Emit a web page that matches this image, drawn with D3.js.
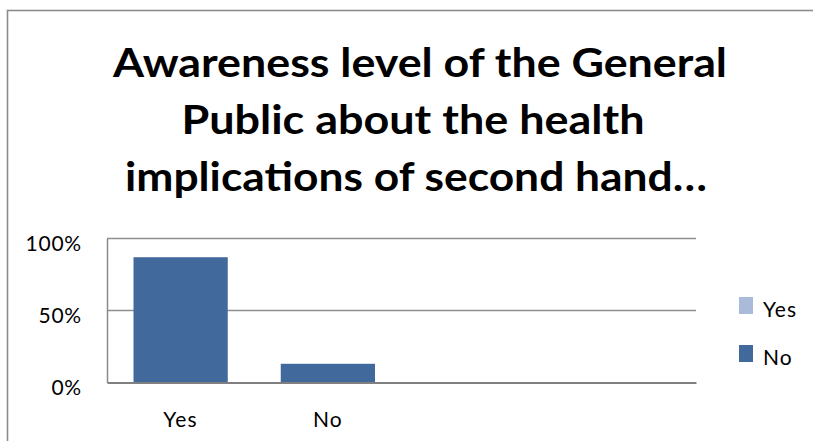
<!DOCTYPE html>
<html>
<head>
<meta charset="utf-8">
<script src="https://cdn.jsdelivr.net/npm/d3@7"></script>
<style>
  html, body { margin: 0; padding: 0; background: #fff; }
  svg { display: block; }
</style>
</head>
<body>
<svg id="chart" width="813" height="441"></svg>
<script>
// Chart data
const categories = ["Yes", "No", " ", "  "];   // four category slots, last two empty
const values = [87, 13, null, null];           // percent of respondents
const yTicks = [0, 50, 100];
const legendLabels = ["Yes", "No"];
const titleLines = [
  "Awareness level of the General",
  "Public about the health",
  "implications of second hand\u2026"
];

const W = 813, H = 441;
const barColor = "#41699b";
const legendColors = ["#aabad9", "#41699b"];
const font = "Lato, 'Open Sans', 'DejaVu Sans', sans-serif";

const svg = d3.select("#chart");

// Outer chart frame (extends past the right/bottom edges)
svg.append("rect")
  .attr("x", 7.5).attr("y", 10.5)
  .attr("width", 840).attr("height", 460)
  .attr("fill", "#fff")
  .attr("stroke", "#8c8c8c")
  .attr("stroke-width", 1.6);

// Title
const title = svg.append("text")
  .attr("text-anchor", "middle")
  .attr("font-family", font)
  .attr("font-weight", 700)
  .attr("font-size", 40)
  .attr("fill", "#000");
const titleWidths = [614, 463, 582];
const titleCenters = [420, 413, 416];
titleLines.forEach((t, i) => {
  title.append("tspan")
    .attr("x", titleCenters[i])
    .attr("y", 77 + i * 57)
    .attr("textLength", titleWidths[i])
    .attr("lengthAdjust", "spacingAndGlyphs")
    .text(t);
});

// Plot area
const plot = { left: 107, right: 696, top: 238.5, bottom: 382.5 };

const x = d3.scaleBand()
  .domain(categories)
  .range([plot.left, plot.right])
  .paddingInner(0.36)
  .paddingOuter(0.18);

const y = d3.scaleLinear()
  .domain([0, 100])
  .range([plot.bottom, plot.top]);

// Gridlines
svg.append("g")
  .selectAll("line")
  .data(yTicks.filter(d => d > 0))
  .join("line")
  .attr("x1", plot.left).attr("x2", plot.right)
  .attr("y1", d => y(d)).attr("y2", d => y(d))
  .attr("stroke", "#8e8e8e")
  .attr("stroke-width", 1.5);

// Bars
svg.append("g")
  .selectAll("rect")
  .data(categories.map((c, i) => ({ c, v: values[i] })).filter(d => d.v != null))
  .join("rect")
  .attr("x", d => x(d.c))
  .attr("width", x.bandwidth())
  .attr("y", d => y(d.v))
  .attr("height", d => y(0) - y(d.v))
  .attr("fill", barColor);

// Axes
const yAxis = d3.axisLeft(y)
  .tickValues(yTicks)
  .tickFormat(d => d + "%")
  .tickSize(0)
  .tickPadding(25);
const gy = svg.append("g")
  .attr("transform", `translate(${plot.left},0)`)
  .call(yAxis);
gy.select(".domain").attr("stroke", "#8a8a8a").attr("stroke-width", 1.5);
gy.selectAll("text")
  .attr("font-family", font)
  .attr("font-size", 21)
  .attr("letter-spacing", 0.8)
  .attr("fill", "#000")
  .attr("dy", "0.55em");

const xAxis = d3.axisBottom(x)
  .tickSize(0)
  .tickPadding(30);
const gx = svg.append("g")
  .attr("transform", `translate(0,${plot.bottom})`)
  .call(xAxis);
gx.select(".domain").attr("stroke", "#808080").attr("stroke-width", 2);
gx.selectAll("text")
  .attr("font-family", font)
  .attr("font-size", 21)
  .attr("letter-spacing", 1.2)
  .attr("fill", "#000");

// Legend
const legend = svg.append("g").attr("transform", "translate(739,297)");
const item = legend.selectAll("g")
  .data(legendLabels)
  .join("g")
  .attr("transform", (d, i) => `translate(0,${i * 48})`);
item.append("rect")
  .attr("width", 14).attr("height", 17)
  .attr("fill", (d, i) => legendColors[i]);
item.append("text")
  .attr("x", 24).attr("y", 19.5)
  .attr("font-family", font)
  .attr("font-size", 21)
  .attr("letter-spacing", 1)
  .attr("fill", "#000")
  .text(d => d);
</script>
</body>
</html>
